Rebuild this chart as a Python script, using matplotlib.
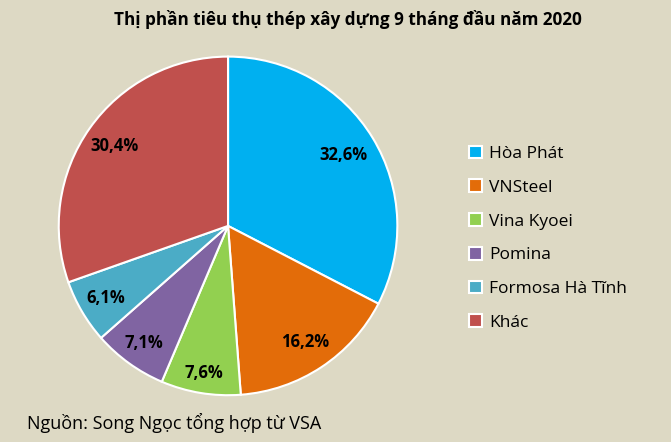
import matplotlib
matplotlib.use("Agg")
import numpy as np
import matplotlib.pyplot as plt
from matplotlib.patches import Patch

plt.rcParams['font.family'] = ['Open Sans', 'DejaVu Sans']

labels = ['Hòa Phát', 'VNSteel', 'Vina Kyoei', 'Pomina', 'Formosa Hà Tĩnh', 'Khác']
shares = [32.6, 16.2, 7.6, 7.1, 6.1, 30.4]
colors = ['#00B0F0', '#E36C09', '#92D050', '#8064A2', '#4BACC6', '#C0504D']
bg = '#DDD9C4'
# how far out each percent label sits (fraction of radius)
label_dist = [0.80, 0.82, 0.88, 0.85, 0.84, 0.82]

fig = plt.figure(figsize=(6.71, 4.42), dpi=100)
fig.patch.set_facecolor(bg)

ax = fig.add_axes([0.085, 0.102, 0.5097, 0.7738])
ax.set_facecolor(bg)
wedges, texts, autotexts = ax.pie(
    shares, colors=colors, startangle=90, counterclock=False,
    autopct=lambda p: ('%.1f%%' % p).replace('.', ','), pctdistance=0.8,
    radius=1, wedgeprops=dict(edgecolor='white', linewidth=1.5),
    textprops=dict(fontsize=12, fontweight='bold', color='black'))
for w, t, d in zip(wedges, autotexts, label_dist):
    a = np.deg2rad((w.theta1 + w.theta2) / 2)
    t.set_position((d * np.cos(a), d * np.sin(a)))
ax.set_xlim(-1.01, 1.01)
ax.set_ylim(-1.01, 1.01)
ax.set_aspect('equal')
ax.axis('off')

handles = [Patch(facecolor=c, edgecolor='white', linewidth=1.5) for c in colors]
fig.legend(handles, labels, loc='center left', bbox_to_anchor=(0.676, 0.461),
           frameon=False, fontsize=12.5, handlelength=0.75, handleheight=0.75,
           handletextpad=0.4, labelspacing=1.0)

fig.text(0.519, 0.955, 'Thị phần tiêu thụ thép xây dựng 9 tháng đầu năm 2020',
         ha='center', va='center', fontsize=12.3, fontweight='bold')
fig.text(0.04, 0.043, 'Nguồn: Song Ngọc tổng hợp từ VSA', ha='left', va='center',
         fontsize=13)

fig.savefig('out.png', dpi=100, facecolor=bg)
